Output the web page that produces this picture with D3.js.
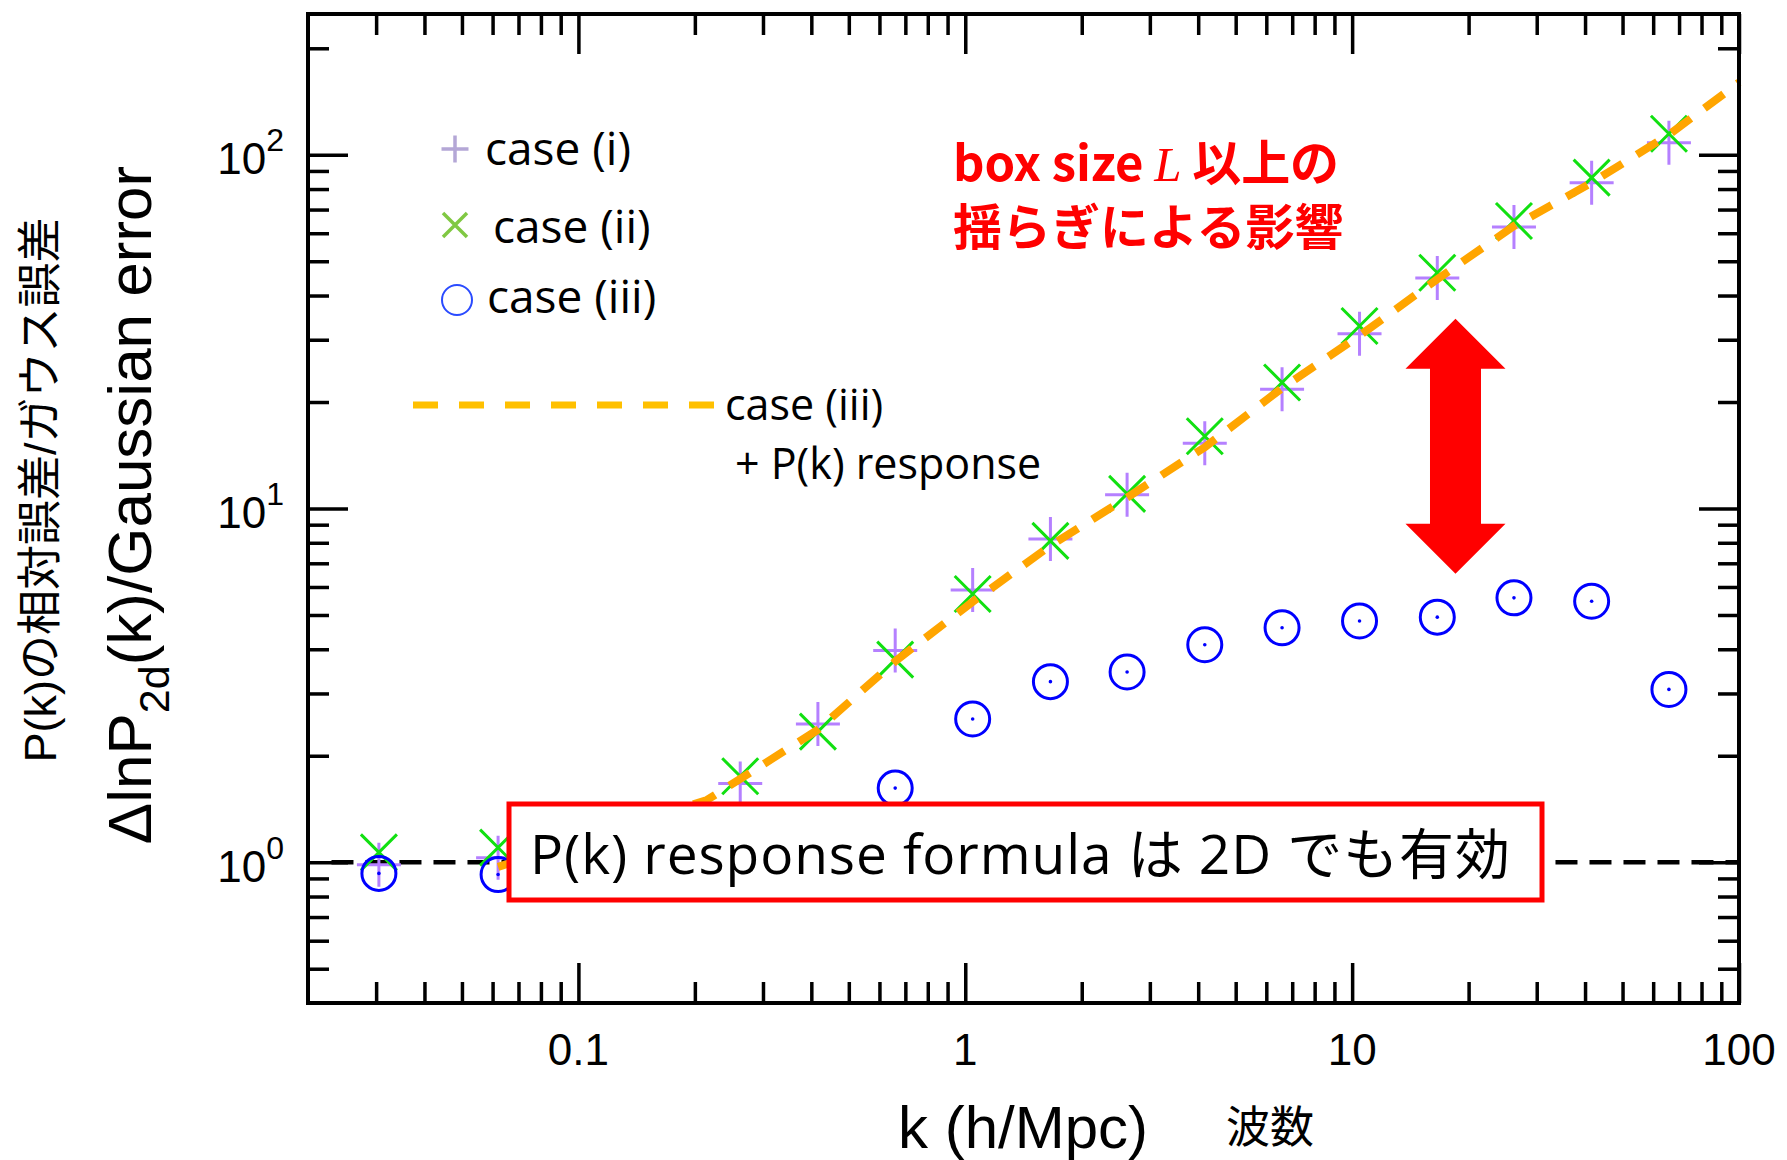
<!DOCTYPE html>
<html lang="ja">
<head>
  <meta charset="UTF-8">
  <title>ΔlnP2d(k)/Gaussian error</title>
  <script src="https://cdn.jsdelivr.net/npm/d3@7"></script>
  <style>
    body { margin: 0; background: #fff; }
  </style>
</head>
<body>
<div id="chart"></div>
<script>
  // wavenumber bins (h/Mpc) that are visible outside the red box
  const K = [0.0305, 0.062, 0.262, 0.416, 0.659, 1.045, 1.66, 2.62, 4.16, 6.59, 10.45, 16.6, 26.2, 41.6, 65.9];
  const CASE_I = [0.984, 1.03, 1.67, 2.46, 3.97, 5.88, 8.2, 10.93, 15.3, 21.75, 31.2, 44.8, 62.5, 83.4, 108.2];
  const CASE_II = [1.066, 1.10, 1.75, 2.34, 3.74, 5.73, 8.1, 11.0, 16.0, 22.7, 32.8, 46.4, 65.0, 86.2, 114.7];
  // null = hidden behind the box
  const CASE_III = [0.93, 0.923, null, null, 1.62, 2.54, 3.24, 3.45, 4.12, 4.60, 4.81, 4.93, 5.59, 5.47, 3.08];

  // case (iii) + P(k) response curve
  const RESP_K = [0.062, 0.215, 0.262, 0.416, 0.659, 1.045, 1.66, 2.62, 4.16, 6.59, 10.45, 16.6, 26.2, 41.6, 65.9, 100];
  const RESP_V = [0.97, 1.5, 1.72, 2.37, 3.7, 5.45, 7.85, 10.74, 14.9, 21.9, 30.8, 44.5, 62.9, 83.4, 114, 160];

  // ticks
  const X_MAJOR = [0.1, 1, 10, 100];
  const X_LABELS = ["0.1", "1", "10", "100"];
  const X_MINOR = [0.03, 0.04, 0.05, 0.06, 0.07, 0.08, 0.09,
    0.2, 0.3, 0.4, 0.5, 0.6, 0.7, 0.8, 0.9,
    2, 3, 4, 5, 6, 7, 8, 9,
    20, 30, 40, 50, 60, 70, 80, 90];
  const Y_MAJOR = [1, 10, 100];
  const Y_EXP = ["0", "1", "2"];
  const Y_MINOR = [0.5, 0.6, 0.7, 0.8, 0.9,
    2, 3, 4, 5, 6, 7, 8, 9,
    20, 30, 40, 50, 60, 70, 80, 90, 200];

  // double arrow: k position and the two tips
  const ARROW = {k: 18.5, top: 34.4, bottom: 6.54};

  const W = 1787, H = 1160;
  const margin = {top: 14, right: 48, bottom: 157, left: 308},
    width = W - margin.left - margin.right,
    height = H - margin.top - margin.bottom;

  const root = d3.select("#chart")
    .append("svg")
    .attr("width", W)
    .attr("height", H);

  root.append("rect").attr("width", W).attr("height", H).attr("fill", "#fff");

  const svg = root.append("g")
    .attr("transform", "translate(" + margin.left + "," + margin.top + ")");

  const x = d3.scaleLog().domain([0.02, 100]).range([0, width]);
  const y = d3.scaleLog().domain([0.4, 250]).range([height, 0]);

  // inward ticks on all four sides
  function ticks(axis, values, size, tx, ty) {
    const g = svg.append("g")
      .attr("transform", "translate(" + tx + "," + ty + ")")
      .call(axis.tickValues(values).tickSize(-size).tickFormat(""));
    g.select(".domain").remove();
    g.selectAll("line").attr("stroke", "#000").attr("stroke-width", 3.5);
  }
  ticks(d3.axisBottom(x), X_MAJOR, 40, 0, height);
  ticks(d3.axisBottom(x), X_MINOR, 21, 0, height);
  ticks(d3.axisTop(x), X_MAJOR, 40, 0, 0);
  ticks(d3.axisTop(x), X_MINOR, 21, 0, 0);
  ticks(d3.axisLeft(y), Y_MAJOR, 40, 0, 0);
  ticks(d3.axisLeft(y), Y_MINOR, 21, 0, 0);
  ticks(d3.axisRight(y), Y_MAJOR, 40, width, 0);
  ticks(d3.axisRight(y), Y_MINOR, 21, width, 0);

  // tick labels
  svg.selectAll(".xlab")
    .data(X_MAJOR)
    .enter()
    .append("text")
    .attr("x", d => x(d))
    .attr("y", height + 62)
    .attr("text-anchor", "middle")
    .style("font-family", "'Liberation Sans', Arial, sans-serif")
    .style("font-size", "44px")
    .text((d, i) => X_LABELS[i]);

  const ylab = svg.selectAll(".ylab")
    .data(Y_MAJOR)
    .enter()
    .append("text")
    .attr("x", -24)
    .attr("y", d => y(d) + 19.5)
    .attr("text-anchor", "end")
    .style("font-family", "'Liberation Sans', Arial, sans-serif")
    .style("font-size", "44px");
  ylab.append("tspan").text("10");
  ylab.append("tspan")
    .attr("dy", -23)
    .style("font-size", "32px")
    .text((d, i) => Y_EXP[i]);

  // y = 1 reference
  svg.append("line")
    .attr("x1", x(0.023)).attr("x2", width)
    .attr("y1", y(1)).attr("y2", y(1))
    .attr("stroke", "#000")
    .attr("stroke-width", 4.5)
    .attr("stroke-dasharray", "22,12");

  // case (i)
  svg.selectAll(".plus")
    .data(K.map((k, i) => [k, CASE_I[i]]))
    .enter()
    .append("path")
    .attr("transform", d => "translate(" + x(d[0]) + "," + y(d[1]) + ")")
    .attr("d", "M-22,0H22M0,-22V22")
    .attr("stroke", "#b580ff")
    .attr("stroke-width", 3)
    .attr("fill", "none");

  // case (ii)
  svg.selectAll(".cross")
    .data(K.map((k, i) => [k, CASE_II[i]]))
    .enter()
    .append("path")
    .attr("transform", d => "translate(" + x(d[0]) + "," + y(d[1]) + ")")
    .attr("d", "M-18,-18L18,18M-18,18L18,-18")
    .attr("stroke", "#11e011")
    .attr("stroke-width", 3)
    .attr("fill", "none");

  // case (iii)
  const c3 = K.map((k, i) => [k, CASE_III[i]]).filter(d => d[1] !== null);
  svg.selectAll(".circ")
    .data(c3)
    .enter()
    .append("circle")
    .attr("cx", d => x(d[0]))
    .attr("cy", d => y(d[1]))
    .attr("r", 17)
    .attr("fill", "none")
    .attr("stroke", "#0000ff")
    .attr("stroke-width", 3);
  svg.selectAll(".dot")
    .data(c3)
    .enter()
    .append("circle")
    .attr("cx", d => x(d[0]))
    .attr("cy", d => y(d[1]))
    .attr("r", 1.8)
    .attr("fill", "#0000ff");

  // case (iii) + response
  const line = d3.line()
    .x(d => x(d[0]))
    .y(d => y(d[1]));
  svg.append("path")
    .datum(RESP_K.map((k, i) => [k, RESP_V[i]]))
    .attr("d", line)
    .attr("fill", "none")
    .attr("stroke", "#ffa500")
    .attr("stroke-width", 8)
    .attr("stroke-dasharray", "24,17");

  // frame
  svg.append("rect")
    .attr("width", width)
    .attr("height", height)
    .attr("fill", "none")
    .attr("stroke", "#000")
    .attr("stroke-width", 4);

  // red double arrow
  const ax = x(ARROW.k), at = y(ARROW.top), ab = y(ARROW.bottom);
  const hw = 50, sw = 25.5, hh = 50;
  svg.append("path")
    .attr("d", "M" + ax + "," + at +
      "L" + (ax + hw) + "," + (at + hh) + "L" + (ax + sw) + "," + (at + hh) +
      "L" + (ax + sw) + "," + (ab - hh) + "L" + (ax + hw) + "," + (ab - hh) +
      "L" + ax + "," + ab +
      "L" + (ax - hw) + "," + (ab - hh) + "L" + (ax - sw) + "," + (ab - hh) +
      "L" + (ax - sw) + "," + (at + hh) + "L" + (ax - hw) + "," + (at + hh) + "Z")
    .attr("fill", "#ff0000");

  // ---- annotations (page coordinates) ----
  const cjk = "'Noto Sans CJK JP', sans-serif";
  const latin = "'Open Sans', 'Noto Sans CJK JP', sans-serif";

  // red box
  root.append("rect")
    .attr("x", 509).attr("y", 804)
    .attr("width", 1033).attr("height", 96)
    .attr("fill", "#fff")
    .attr("stroke", "#ff0000")
    .attr("stroke-width", 5);
  root.append("text")
    .attr("x", 530).attr("y", 874)
    .attr("textLength", 980)
    .attr("lengthAdjust", "spacing")
    .style("font-family", latin)
    .style("font-size", "55px")
    .text("P(k) response formula は 2D でも有効");

  // red annotation
  const note1 = root.append("text")
    .attr("x", 953).attr("y", 181)
    .attr("textLength", 386)
    .attr("lengthAdjust", "spacing")
    .attr("fill", "#ff0000")
    .style("font-family", cjk)
    .style("font-weight", "700")
    .style("font-size", "49px");
  note1.append("tspan").text("box size ");
  note1.append("tspan")
    .style("font-family", "'Liberation Serif', serif")
    .style("font-style", "italic")
    .style("font-weight", "400")
    .text("L");
  note1.append("tspan").text(" 以上の");
  root.append("text")
    .attr("x", 953).attr("y", 245)
    .attr("fill", "#ff0000")
    .style("font-family", cjk)
    .style("font-weight", "700")
    .style("font-size", "49px")
    .text("揺らぎによる影響");

  // legend
  const legend = [
    {label: "case (i)", x: 485, y: 165, my: 149},
    {label: "case (ii)", x: 493, y: 243, my: 225},
    {label: "case (iii)", x: 487, y: 313, my: 300}
  ];
  root.append("path")
    .attr("d", "M" + (455 - 13.5) + "," + legend[0].my + "h27M455," + (legend[0].my - 13.5) + "v27")
    .attr("stroke", "#b4a7d6").attr("stroke-width", 3.5);
  root.append("path")
    .attr("d", "M" + 443 + "," + (legend[1].my - 12) + "l24,24M443," + (legend[1].my + 12) + "l24,-24")
    .attr("stroke", "#80c843").attr("stroke-width", 3.5);
  root.append("circle")
    .attr("cx", 457).attr("cy", legend[2].my).attr("r", 15)
    .attr("fill", "none").attr("stroke", "#2a4bff").attr("stroke-width", 2);
  root.selectAll(".leg")
    .data(legend)
    .enter()
    .append("text")
    .attr("x", d => d.x)
    .attr("y", d => d.y)
    .style("font-family", latin)
    .style("font-size", "46px")
    .text(d => d.label);

  root.append("line")
    .attr("x1", 413).attr("x2", 716)
    .attr("y1", 405).attr("y2", 405)
    .attr("stroke", "#ffc000")
    .attr("stroke-width", 7)
    .attr("stroke-dasharray", "25,21");
  root.append("text")
    .attr("x", 725).attr("y", 420)
    .style("font-family", latin)
    .style("font-size", "43px")
    .text("case (iii)");
  root.append("text")
    .attr("x", 735).attr("y", 479)
    .style("font-family", latin)
    .style("font-size", "43px")
    .text("+ P(k) response");

  // axis titles
  root.append("text")
    .attr("x", 1023).attr("y", 1148)
    .attr("text-anchor", "middle")
    .style("font-family", "'Liberation Sans', Arial, sans-serif")
    .style("font-size", "60px")
    .text("k (h/Mpc)");
  root.append("text")
    .attr("x", 1226).attr("y", 1143)
    .style("font-family", cjk)
    .style("font-size", "44px")
    .text("波数");

  const yt = root.append("text")
    .attr("transform", "translate(151,505) rotate(-90)")
    .attr("text-anchor", "middle")
    .style("font-family", "'Liberation Sans', Arial, sans-serif")
    .style("font-size", "62px");
  yt.append("tspan").text("ΔlnP");
  yt.append("tspan").attr("dy", 18).style("font-size", "43px").text("2d");
  yt.append("tspan").attr("dy", -18).text("(k)/Gaussian error");

  root.append("text")
    .attr("transform", "translate(56,490) rotate(-90)")
    .attr("text-anchor", "middle")
    .style("font-family", "'Liberation Sans', 'Noto Sans CJK JP', sans-serif")
    .style("font-size", "45px")
    .text("P(k)の相対誤差/ガウス誤差");
</script>
</body>
</html>
